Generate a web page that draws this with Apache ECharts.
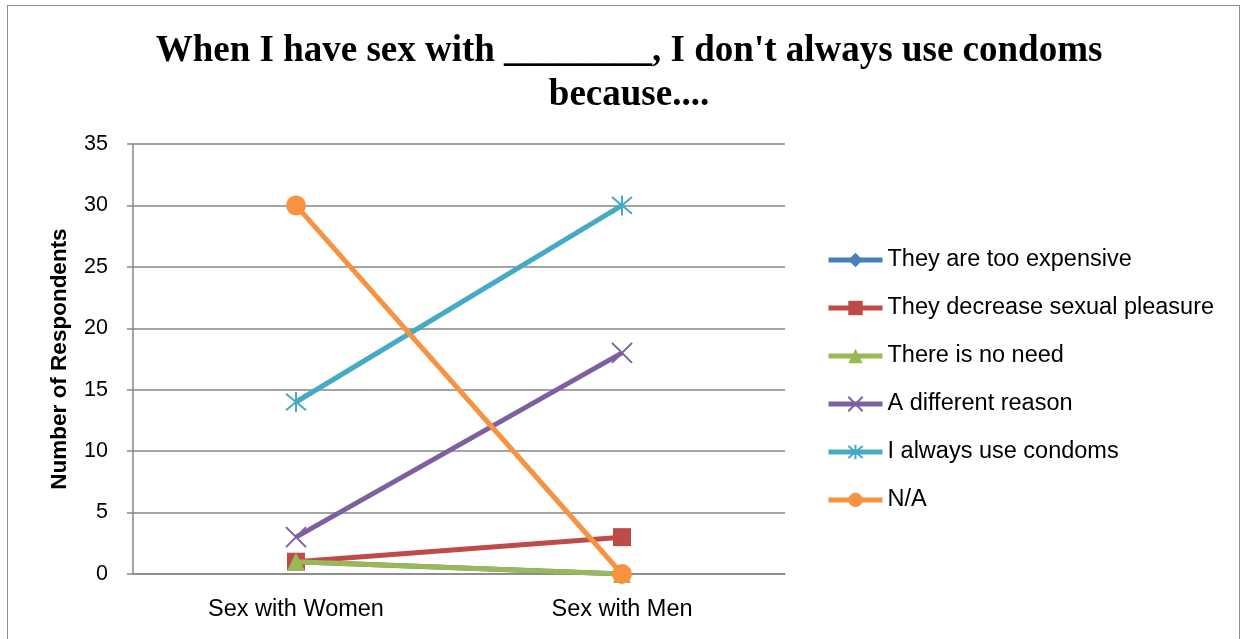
<!DOCTYPE html>
<html><head><meta charset="utf-8">
<script src="https://cdn.jsdelivr.net/npm/echarts@6/dist/echarts.min.js"></script>
<style>html,body{margin:0;padding:0;background:#fff}#c{width:1241px;height:639px}
#frame{position:absolute;left:7px;top:5px;width:1233px;height:660px;border:1.5px solid #8c8c8c;box-sizing:border-box;pointer-events:none}</style>
</head><body><div id="c"></div><div id="frame"></div>
<script>
const categories = ['Sex with Women', 'Sex with Men'];
const seriesNames = ['They are too expensive','They decrease sexual pleasure','There is no need','A different reason','I always use condoms','N/A'];
const tooExpensive = [1, 0];
const decreasePleasure = [1, 3];
const noNeed = [1, 0];
const differentReason = [3, 18];
const alwaysUse = [14, 30];
const notApplicable = [30, 0];
const yTicks = [0, 5, 10, 15, 20, 25, 30, 35];

const colors = ['#4A7EBB','#BE4B48','#98B954','#7D60A0','#46AAC5','#F69240'];
const symbols = ['diamond','rect','triangle','path://M0,0L10,10M10,0L0,10','path://M0,0L10,10M10,0L0,10M5,-1L5,11','circle'];
const datas = [tooExpensive, decreasePleasure, noNeed, differentReason, alwaysUse, notApplicable];
const sizes = [18,18,18,20,20,20];

const chart = echarts.init(document.getElementById('c'));
chart.setOption({
  animation:false,
  title:{text:'When I have sex with ________, I don\'t always use condoms\nbecause....', left:624, top:24, textAlign:'center',
    textStyle:{fontFamily:'Liberation Serif', fontWeight:'bold', fontSize:37, lineHeight:44, color:'#000'}},
  grid:{left:133, right:456, top:144, bottom:65},
  legend:{orient:'vertical', left:821, top:243, itemGap:24, itemWidth:54, itemHeight:18,
    lineStyle:{width:5},
    textStyle:{fontFamily:'Liberation Sans', fontSize:23.5, lineHeight:24, color:'#000'},
    data:seriesNames},
  xAxis:{type:'category', data:categories, boundaryGap:true,
    axisLine:{lineStyle:{color:'#868686', width:1.5}},
    axisTick:{show:false},
    axisLabel:{fontFamily:'Liberation Sans', fontSize:23.5, color:'#000', margin:24}},
  yAxis:{type:'value', min:yTicks[0], max:yTicks[yTicks.length-1], interval:5,
    name:'Number of Respondents', nameLocation:'middle', nameGap:62,
    nameTextStyle:{fontFamily:'Liberation Sans', fontWeight:'bold', fontSize:22.5, color:'#000'},
    axisLine:{show:true, lineStyle:{color:'#868686', width:1.5}},
    axisTick:{show:true, inside:false, length:6, lineStyle:{color:'#868686', width:1.5}},
    splitLine:{lineStyle:{color:'#868686', width:1.5}},
    axisLabel:{fontFamily:'Liberation Sans', fontSize:21.5, color:'#000', margin:25}},
  series: seriesNames.map((n,i)=>({
    name:n, type:'line', data:datas[i], symbol:symbols[i], symbolSize:sizes[i], showSymbol:true,
    lineStyle:{color:colors[i], width:5},
    itemStyle:{color:colors[i], borderColor:colors[i], borderWidth:(i===3||i===4)?2:0},
    z: 2+i
  }))
});
</script></body></html>
